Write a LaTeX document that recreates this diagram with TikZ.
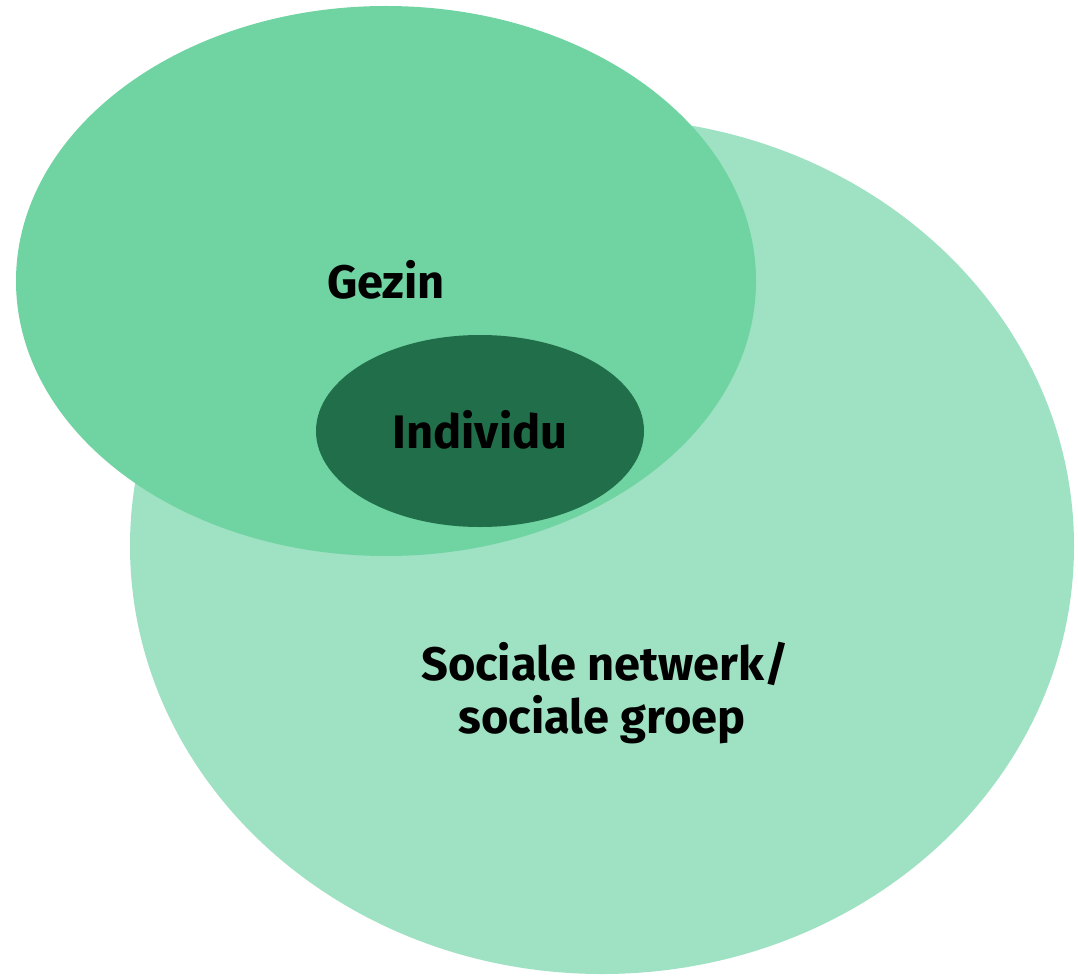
\documentclass[tikz,border=0pt]{standalone}
\usepackage{fontspec}
\setmainfont{Fira Sans}
\definecolor{outerc}{HTML}{9EE1C3}
\definecolor{gezinc}{HTML}{6FD3A2}
\definecolor{indivc}{HTML}{216E4A}
\tikzset{
  lbl/.style={font=\fontsize{47}{53}\selectfont\bfseries, text=black, anchor=base, inner sep=0pt}
}
\begin{document}
\begin{tikzpicture}[x=1pt,y=-1pt]
\useasboundingbox (0,0) rectangle (1078,976);
\fill[outerc] (602,546) ellipse [x radius=472, y radius=428];
\fill[gezinc] (386,281) ellipse [x radius=370, y radius=275];
\fill[indivc] (480,431) ellipse [x radius=164, y radius=96];
\node[lbl] (gezin) at (386,298) {Gezin};
\node[lbl] (indiv) at (480,448) {Individu};
\node[lbl] (soc1) at (605,680) {Sociale netwerk/};
\node[lbl] (soc2) at (602,733) {sociale groep};
\end{tikzpicture}
\end{document}
